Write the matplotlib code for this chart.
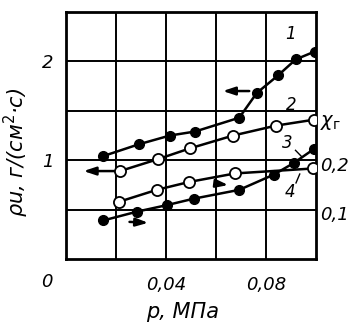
import matplotlib
matplotlib.use("Agg")
import matplotlib.pyplot as plt

# data
p1 = [0.0147, 0.0290, 0.0416, 0.0516, 0.0693, 0.0763, 0.0849, 0.0919, 0.0995]
ru1 = [1.04, 1.16, 1.25, 1.29, 1.43, 1.68, 1.86, 2.02, 2.10]
p2 = [0.0216, 0.0367, 0.0496, 0.0669, 0.0840, 0.0992]
ru2 = [0.89, 1.01, 1.12, 1.25, 1.35, 1.41]
p3 = [0.0149, 0.0285, 0.0403, 0.0510, 0.0693, 0.0832, 0.0910, 0.0990]
ru3 = [0.39, 0.48, 0.545, 0.61, 0.70, 0.855, 0.97, 1.11]
p4 = [0.0213, 0.0363, 0.0493, 0.0676, 0.0987]
ru4 = [0.58, 0.70, 0.78, 0.866, 0.916]

xticks = [0.04, 0.08]
xticklabels = ["0,04", "0,08"]
yticks = [1, 2]
yticklabels = ["1", "2"]
right_ticks = [0.2, 0.1]
right_labels = ["0,2", "0,1"]

plt.rcParams['font.family'] = ['DejaVu Sans']

fig = plt.figure(figsize=(3.6, 3.29), dpi=100)
ax = fig.add_axes([66/360, 1-259/329, 250/360, 247/329])
ax.set_xlim(0, 0.1)
ax.set_ylim(0, 2.5)

# grid
for gx in [0.02, 0.04, 0.06, 0.08]:
    ax.axvline(gx, color='black', lw=1.4, zorder=1)
for gy in [0.5, 1.0, 1.5, 2.0]:
    ax.axhline(gy, color='black', lw=1.4, zorder=1)
for s in ax.spines.values():
    s.set_linewidth(2.0)

ax.set_xticks(xticks)
ax.set_xticklabels(xticklabels, fontsize=13, style='italic')
ax.set_yticks(yticks)
ax.set_yticklabels(yticklabels, fontsize=13, style='italic')
ax.tick_params(axis='x', length=0, pad=12)
ax.tick_params(axis='y', length=0, pad=9)

ax.text(-0.0076, -0.093, "0", transform=ax.get_xaxis_transform(), fontsize=13,
        style='italic', ha='center', va='center')

lw = 1.8
ax.plot(p1, ru1, '-o', color='black', lw=lw, ms=7, mfc='black', mec='black', zorder=3)
ax.plot(p2, ru2, '-o', color='black', lw=lw, ms=8, mfc='white', mec='black', mew=1.3, zorder=3)
ax.plot(p3, ru3, '-o', color='black', lw=lw, ms=7, mfc='black', mec='black', zorder=3)
ax.plot(p4, ru4, '-o', color='black', lw=lw, ms=8, mfc='white', mec='black', mew=1.3, zorder=3)

# arrows
aprops = dict(arrowstyle='-|>,head_length=0.6,head_width=0.2', color='black', lw=1.8,
              mutation_scale=12)
ax.annotate("", xy=(0.0616, 1.70), xytext=(0.0744, 1.70), arrowprops=aprops, zorder=4)
ax.annotate("", xy=(0.0059, 0.89), xytext=(0.0203, 0.89), arrowprops=aprops, zorder=4)
ax.annotate("", xy=(0.0340, 0.365), xytext=(0.0243, 0.377), arrowprops=aprops, zorder=4)
ax.annotate("", xy=(0.0660, 0.745), xytext=(0.0588, 0.768), arrowprops=aprops, zorder=4)

# curve numbers
ax.text(0.0896, 2.28, "1", fontsize=12, style='italic', ha='center', va='center')
ax.text(0.0900, 1.56, "2", fontsize=12, style='italic', ha='center', va='center')
ax.text(0.0884, 1.17, "3", fontsize=12, style='italic', ha='center', va='center')
ax.text(0.0896, 0.68, "4", fontsize=12, style='italic', ha='center', va='center')
ax.plot([0.0918, 0.0945], [1.10, 1.03], color='black', lw=1.0, zorder=2)
ax.plot([0.0920, 0.0935], [0.77, 0.86], color='black', lw=1.0, zorder=2)

# right side labels
ax.text(1.016, (259-122)/247, r"$\chi_\mathrm{г}$", transform=ax.transAxes, fontsize=14,
        ha='left', va='center')
for t, lab in zip(right_ticks, right_labels):
    ax.text(1.016, t * 5 / 2.5 - 0.022, lab, transform=ax.transAxes, fontsize=13,
            style='italic', ha='left', va='center')

ax.set_xlabel("p, МПа", fontsize=15, style='italic')
ax.xaxis.set_label_coords((183-66)/250, (259-302)/247)
ax.set_ylabel("ρu, г/(см$^2$·с)", fontsize=15, style='italic')
ax.yaxis.set_label_coords((31-66)/250, (259-152)/247)

fig.savefig("out.png", dpi=100)
